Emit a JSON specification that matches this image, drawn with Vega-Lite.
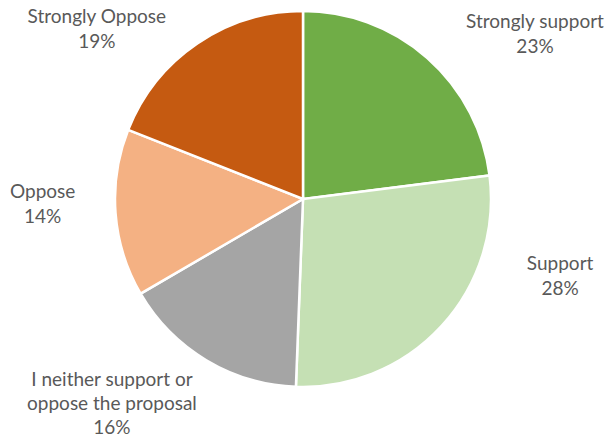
{
  "$schema": "https://vega.github.io/schema/vega-lite/v6.json",
  "width": 606,
  "height": 398,
  "autosize": "none",
  "padding": {"left": 0, "top": 0, "right": 5, "bottom": 36},
  "background": "white",
  "view": {"stroke": null},
  "data": {
    "values": [
      {"k": 1, "category": "Strongly support", "pct": 23.0, "label": "Strongly support\n23%"},
      {"k": 2, "category": "Support", "pct": 27.6, "label": "Support\n28%"},
      {"k": 3, "category": "I neither support or oppose the proposal", "pct": 16.0, "label": "I neither support or\noppose the proposal\n16%"},
      {"k": 4, "category": "Oppose", "pct": 14.4, "label": "Oppose\n14%"},
      {"k": 5, "category": "Strongly Oppose", "pct": 19.0, "label": "Strongly Oppose\n19%"}
    ]
  },
  "transform": [
    {"stack": "pct", "groupby": [], "sort": [{"field": "k", "order": "ascending"}], "as": ["p0", "p1"]}
  ],
  "encoding": {
    "theta": {"field": "p0", "type": "quantitative", "scale": {"domain": [0, 100]}},
    "theta2": {"field": "p1"}
  },
  "layer": [
    {
      "mark": {"type": "arc", "radius": 188, "stroke": "white", "strokeWidth": 2.5},
      "encoding": {
        "color": {
          "field": "category",
          "type": "nominal",
          "scale": {
            "domain": ["Strongly support", "Support", "I neither support or oppose the proposal", "Oppose", "Strongly Oppose"],
            "range": ["#70AD47", "#C5E0B4", "#A5A5A5", "#F4B183", "#C55A11"]
          },
          "legend": null
        }
      }
    },
    {
      "transform": [{"filter": "datum.k == 1"}],
      "mark": {"type": "text", "radius": 240, "dx": 232, "dy": 63, "lineBreak": "\n", "font": "Lato", "fontSize": 19, "fill": "#595959", "align": "center", "baseline": "middle", "lineHeight": 25},
      "encoding": {"text": {"field": "label"}}
    },
    {
      "transform": [{"filter": "datum.k == 2"}],
      "mark": {"type": "text", "radius": 240, "dx": 19, "dy": 95, "lineBreak": "\n", "font": "Lato", "fontSize": 19, "fill": "#595959", "align": "center", "baseline": "middle", "lineHeight": 25},
      "encoding": {"text": {"field": "label"}}
    },
    {
      "transform": [{"filter": "datum.k == 3"}],
      "mark": {"type": "text", "radius": 240, "dx": -182, "dy": -59, "lineBreak": "\n", "font": "Lato", "fontSize": 19, "fill": "#595959", "align": "center", "baseline": "middle", "lineHeight": 24},
      "encoding": {"text": {"field": "label"}}
    },
    {
      "transform": [{"filter": "datum.k == 4"}],
      "mark": {"type": "text", "radius": 240, "dx": -53, "dy": -128, "lineBreak": "\n", "font": "Lato", "fontSize": 19, "fill": "#595959", "align": "center", "baseline": "middle", "lineHeight": 25},
      "encoding": {"text": {"field": "label"}}
    },
    {
      "transform": [{"filter": "datum.k == 5"}],
      "mark": {"type": "text", "radius": 240, "dx": 17, "dy": -94, "lineBreak": "\n", "font": "Lato", "fontSize": 19, "fill": "#595959", "align": "center", "baseline": "middle", "lineHeight": 25},
      "encoding": {"text": {"field": "label"}}
    }
  ]
}
